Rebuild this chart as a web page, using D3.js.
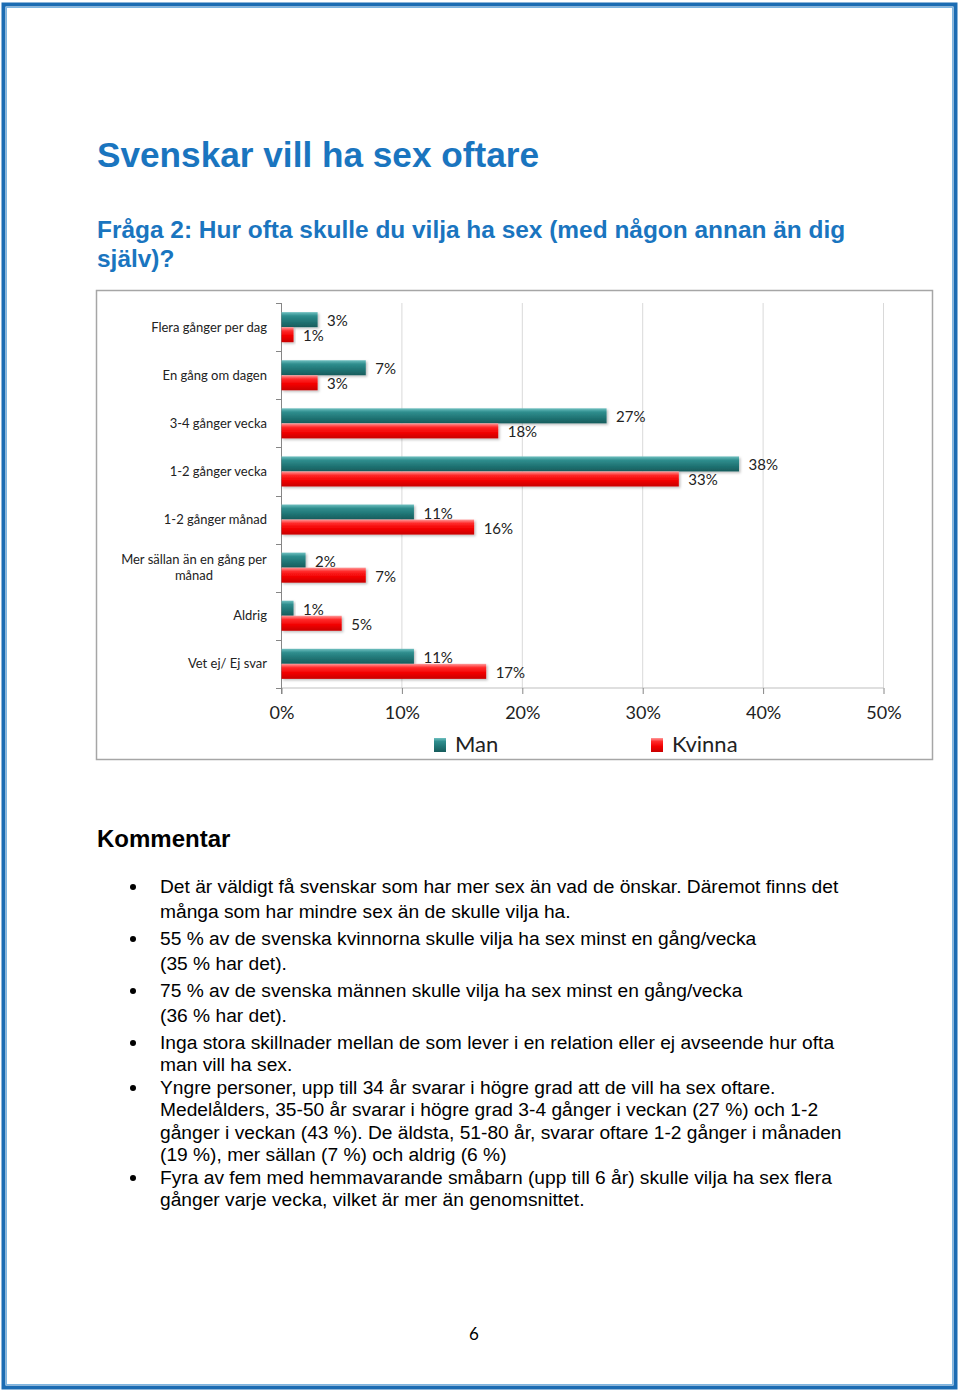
<!DOCTYPE html>
<html>
<head>
<meta charset="utf-8">
<script src="https://cdn.jsdelivr.net/npm/d3@7"></script>
<style>
  html, body { margin: 0; padding: 0; background: #fff; }
  svg { display: block; }
</style>
</head>
<body>
<script>
// ---------- data ----------
const categories = [
  "Flera gånger per dag",
  "En gång om dagen",
  "3-4 gånger vecka",
  "1-2 gånger vecka",
  "1-2 gånger månad",
  "Mer sällan än en gång per månad",
  "Aldrig",
  "Vet ej/ Ej svar"
];
const seriesNames = ["Man", "Kvinna"];
const manValues = [3, 7, 27, 38, 11, 2, 1, 11];
const kvinnaValues = [1, 3, 18, 33, 16, 7, 5, 17];
const tickValues = [0, 10, 20, 30, 40, 50];

const titleText = "Svenskar vill ha sex oftare";
const subtitleLines = ["Fråga 2: Hur ofta skulle du vilja ha sex (med någon annan än dig", "själv)?"];
const commentHeading = "Kommentar";
const bullets = [
  ["Det är väldigt få svenskar som har mer sex än vad de önskar. Däremot finns det", "många som har mindre sex än de skulle vilja ha."],
  ["55 % av de svenska kvinnorna skulle vilja ha sex minst en gång/vecka", "(35 % har det)."],
  ["75 % av de svenska männen skulle vilja ha sex minst en gång/vecka", "(36 % har det)."],
  ["Inga stora skillnader mellan de som lever i en relation eller ej avseende hur ofta", "man vill ha sex."],
  ["Yngre personer, upp till 34 år svarar i högre grad att de vill ha sex oftare.", "Medelålders, 35-50 år svarar i högre grad 3-4 gånger i veckan (27 %) och 1-2", "gånger i veckan (43 %). De äldsta, 51-80 år, svarar oftare 1-2 gånger i månaden", "(19 %), mer sällan (7 %) och aldrig (6 %)"],
  ["Fyra av fem med hemmavarande småbarn (upp till 6 år) skulle vilja ha sex flera", "gånger varje vecka, vilket är mer än genomsnittet."]
];
const pageNumber = "6";

// ---------- layout ----------
const W = 960, H = 1396;
const svg = d3.select("body").append("svg").attr("width", W).attr("height", H);

const defs = svg.append("defs");
function grad(id, stops) {
  const g = defs.append("linearGradient").attr("id", id)
    .attr("x1", 0).attr("y1", 0).attr("x2", 0).attr("y2", 1);
  stops.forEach(s => g.append("stop").attr("offset", s[0]).attr("stop-color", s[1]));
}
grad("gMan", [[0, "#6fc0c0"], [0.25, "#2f8e8e"], [0.6, "#217676"], [1, "#175c5c"]]);
grad("gKvinna", [[0, "#ff9a9a"], [0.25, "#ff2a2a"], [0.6, "#f20000"], [1, "#c80000"]]);
const shadow = defs.append("filter").attr("id", "sh").attr("x", "-5%").attr("y", "-20%").attr("width", "120%").attr("height", "160%");
shadow.append("feDropShadow").attr("dx", 1.5).attr("dy", 1.5).attr("stdDeviation", 1).attr("flood-color", "#000").attr("flood-opacity", 0.25);

// page border
svg.append("rect").attr("x", 3.5).attr("y", 4.5).attr("width", 952).attr("height", 1383)
  .attr("fill", "none").attr("stroke", "#1b6cb3").attr("stroke-width", 4);
svg.append("rect").attr("x", 6.5).attr("y", 7.5).attr("width", 946).attr("height", 1377)
  .attr("fill", "none").attr("stroke", "#7fb6e0").attr("stroke-width", 1);

// titles
svg.append("text").attr("x", 97).attr("y", 167).text(titleText)
  .attr("font-family", "Liberation Sans, Arial, sans-serif").attr("font-weight", "bold")
  .attr("font-size", 35.2).attr("fill", "#1a75bf");
subtitleLines.forEach((t, i) => {
  svg.append("text").attr("x", 97).attr("y", 238 + i * 29).text(t)
    .attr("font-family", "Liberation Sans, Arial, sans-serif").attr("font-weight", "bold")
    .attr("font-size", 24.45).attr("fill", "#1a75bf");
});

// ---------- chart ----------
const box = { x: 96, y: 290, w: 836, h: 469 };
svg.append("rect").attr("x", box.x + 0.5).attr("y", box.y + 0.5).attr("width", box.w).attr("height", box.h)
  .attr("fill", "#fff").attr("stroke", "#a6a6a6").attr("stroke-width", 1.5);

const plot = { left: 281, right: 883, top: 303, bottom: 688 };
const x = d3.scaleLinear().domain([0, 50]).range([plot.left, plot.right]);
const y = d3.scaleBand().domain(categories).range([plot.top, plot.bottom]).paddingInner(0.375).paddingOuter(0.19);
const ySub = d3.scaleBand().domain(seriesNames).range([0, y.bandwidth()]);

const chartFont = "Lato, 'Open Sans', sans-serif";
const g = svg.append("g");

// gridlines
g.selectAll(".grid").data(tickValues.slice(1)).enter().append("line")
  .attr("x1", d => x(d) + 0.5).attr("x2", d => x(d) + 0.5)
  .attr("y1", plot.top).attr("y2", plot.bottom)
  .attr("stroke", "#d9d9d9").attr("stroke-width", 1);

// x axis
const xAxis = d3.axisBottom(x).tickValues(tickValues).tickFormat(d => d + "%").tickSize(6).tickPadding(12);
const xg = g.append("g").attr("transform", `translate(0.5,${plot.bottom})`).call(xAxis);
xg.select(".domain").attr("stroke", "#bfbfbf").attr("d", `M${plot.left},0H${plot.right}`);
xg.selectAll(".tick line").attr("stroke", "#868686");
xg.selectAll(".tick text").attr("font-family", chartFont).attr("font-size", 18).attr("fill", "#222");

// y axis (ticks at band boundaries)
const yBoundaries = d3.range(categories.length + 1).map(i => plot.top + i * (plot.bottom - plot.top) / categories.length);
g.append("line").attr("x1", plot.left + 0.5).attr("x2", plot.left + 0.5).attr("y1", plot.top).attr("y2", plot.bottom + 6)
  .attr("stroke", "#868686");
g.selectAll(".ytick").data(yBoundaries).enter().append("line")
  .attr("x1", plot.left - 5).attr("x2", plot.left)
  .attr("y1", d => Math.round(d) + 0.5).attr("y2", d => Math.round(d) + 0.5)
  .attr("stroke", "#868686");

// category labels
categories.forEach(c => {
  const cy = y(c) + y.bandwidth() / 2;
  const t = g.append("text").attr("font-family", chartFont).attr("font-size", 13).attr("fill", "#222");
  if (c === "Mer sällan än en gång per månad") {
    t.attr("text-anchor", "middle");
    t.append("tspan").attr("x", 194).attr("y", cy - 4).text("Mer sällan än en gång per");
    t.append("tspan").attr("x", 194).attr("y", cy + 12).text("månad");
  } else {
    t.attr("text-anchor", "end").attr("x", 267).attr("y", cy + 4.5).text(c);
  }
});

// bars
const rows = categories.map((c, i) => ({ cat: c, Man: manValues[i], Kvinna: kvinnaValues[i] }));
seriesNames.forEach(s => {
  g.selectAll(".bar-" + s).data(rows).enter().append("rect")
    .attr("x", x(0) + 0.5)
    .attr("y", d => y(d.cat) + ySub(s))
    .attr("width", d => x(d[s]) - x(0))
    .attr("height", ySub.bandwidth())
    .attr("fill", `url(#g${s})`)
    .attr("filter", "url(#sh)");
  g.selectAll(".lab-" + s).data(rows).enter().append("text")
    .attr("x", d => x(d[s]) + 10)
    .attr("y", d => y(d.cat) + ySub(s) + ySub.bandwidth() / 2 + 6.5)
    .attr("font-family", chartFont).attr("font-size", 15).attr("fill", "#222")
    .text(d => d[s] + "%");
});

// legend
const legend = [{ name: "Man", x: 434, fill: "url(#gMan)" }, { name: "Kvinna", x: 651, fill: "url(#gKvinna)" }];
legend.forEach(l => {
  g.append("rect").attr("x", l.x).attr("y", 738).attr("width", 12).attr("height", 14).attr("fill", l.fill);
  g.append("text").attr("x", l.x + 21).attr("y", 752).text(l.name)
    .attr("font-family", chartFont).attr("font-size", 22).attr("fill", "#222");
});

// ---------- commentary ----------
svg.append("text").attr("x", 97).attr("y", 847).text(commentHeading)
  .attr("font-family", "Liberation Sans, Arial, sans-serif").attr("font-weight", "bold")
  .attr("font-size", 24).attr("fill", "#000");

const lineBaselines = [
  [893, 918],
  [945, 970],
  [997, 1022],
  [1049, 1071],
  [1094, 1116, 1139, 1161],
  [1184, 1206]
];
bullets.forEach((lines, bi) => {
  svg.append("circle").attr("cx", 133).attr("cy", lineBaselines[bi][0] - 6).attr("r", 3).attr("fill", "#000");
  lines.forEach((t, li) => {
    svg.append("text").attr("x", 160).attr("y", lineBaselines[bi][li]).text(t)
      .attr("font-family", "Liberation Sans, Arial, sans-serif").attr("font-size", 19.2).attr("fill", "#000");
  });
});

svg.append("text").attr("x", 474).attr("y", 1340).attr("text-anchor", "middle").text(pageNumber)
  .attr("font-family", chartFont).attr("font-size", 17).attr("fill", "#000");
</script>
</body>
</html>
